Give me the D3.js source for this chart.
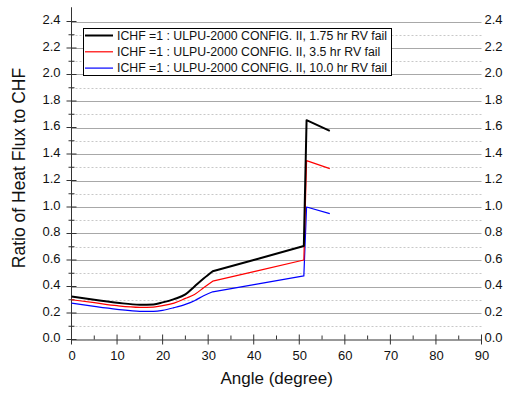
<!DOCTYPE html>
<html><head><meta charset="utf-8">
<script src="https://cdn.jsdelivr.net/npm/d3@7"></script>
<style>body{margin:0;background:#fff}svg{display:block}text{font-family:Arial,"Liberation Sans",sans-serif}</style>
</head><body><svg id="c" width="510" height="395"></svg>
<script>
const angles1 = [0, 5, 10, 15, 18, 20, 22.5, 25, 27, 29, 31, 41, 51, 51.6, 56.7];
const black175 = [0.325, 0.30, 0.278, 0.262, 0.265, 0.28, 0.305, 0.34, 0.40, 0.46, 0.515, 0.61, 0.705, 1.655, 1.575];
const red35 = [0.30, 0.278, 0.255, 0.243, 0.245, 0.255, 0.275, 0.31, 0.34, 0.39, 0.44, 0.52, 0.60, 1.35, 1.29];
const blue10 = [0.275, 0.25, 0.228, 0.213, 0.213, 0.22, 0.24, 0.265, 0.293, 0.33, 0.36, 0.42, 0.48, 1.00, 0.95];
const seriesNames = ["ICHF =1 : ULPU-2000 CONFIG. II, 1.75 hr RV fail", "ICHF =1 : ULPU-2000 CONFIG. II, 3.5 hr RV fail", "ICHF =1 : ULPU-2000 CONFIG. II, 10.0 hr RV fail"];
const seriesColors = ["#000000", "#ff0000", "#0000ff"];
const seriesWidths = [2, 1.2, 1.2];
const xTicks = [0,10,20,30,40,50,60,70,80,90];
const yTicks = [0,0.2,0.4,0.6,0.8,1.0,1.2,1.4,1.6,1.8,2.0,2.2,2.4];

const svg = d3.select("#c");
const x = d3.scaleLinear().domain([0,90]).range([71.5,481.5]);
const y = d3.scaleLinear().domain([0,2.5]).range([339.5,8.25]);

// grid
const minorY = d3.range(1,25,2).map(i=>i/10);
svg.append("g").selectAll("line").data(minorY).join("line")
  .attr("x1",x(0)).attr("x2",x(90)).attr("y1",d=>Math.round(y(d))+0.5).attr("y2",d=>Math.round(y(d))+0.5)
  .attr("stroke","#c8c8c8").attr("stroke-dasharray","2,2").attr("stroke-width",1);
svg.append("g").selectAll("line").data(yTicks.slice(1)).join("line")
  .attr("x1",x(0)).attr("x2",x(90)).attr("y1",d=>Math.round(y(d))+0.5).attr("y2",d=>Math.round(y(d))+0.5)
  .attr("stroke","#a8a8a8").attr("stroke-width",1);

// axes
const axCol = "#333";
const tickFs = 13;
const gx = svg.append("g").attr("transform",`translate(0,${y(0)})`).call(d3.axisBottom(x).tickValues(xTicks).tickFormat(d3.format("d")).tickSize(0).tickPadding(11));
gx.select(".domain").attr("stroke",axCol);
gx.selectAll("text").attr("font-size",tickFs).attr("fill","#111");
svg.append("g").selectAll("line").data(xTicks).join("line")
  .attr("x1",d=>x(d)).attr("x2",d=>x(d)).attr("y1",y(0)-5).attr("y2",y(0)+5).attr("stroke",axCol);
svg.append("g").selectAll("line").data(d3.range(5,90,10)).join("line")
  .attr("x1",d=>x(d)).attr("x2",d=>x(d)).attr("y1",y(0)-4).attr("y2",y(0)).attr("stroke",axCol);

const gy = svg.append("g").attr("transform",`translate(${x(0)},0)`).call(d3.axisLeft(y).tickValues(yTicks).tickFormat(d3.format(".1f")).tickSize(0).tickPadding(11));
gy.select(".domain").remove();
gy.selectAll("text").attr("font-size",tickFs).attr("fill","#111").attr("dy","0.17em");
svg.append("line").attr("x1",x(0)).attr("x2",x(0)).attr("y1",y(2.5)-1).attr("y2",y(0)).attr("stroke",axCol);
svg.append("g").selectAll("line").data(yTicks).join("line")
  .attr("x1",x(0)-5).attr("x2",x(0)+5).attr("y1",d=>y(d)).attr("y2",d=>y(d)).attr("stroke",axCol);
svg.append("g").selectAll("line").data(minorY).join("line")
  .attr("x1",x(0)-3).attr("x2",x(0)+3).attr("y1",d=>y(d)).attr("y2",d=>y(d)).attr("stroke",axCol);

const gr = svg.append("g").attr("transform",`translate(${x(90)},0)`).call(d3.axisRight(y).tickValues(yTicks).tickFormat(d3.format(".1f")).tickSize(0).tickPadding(3));
gr.select(".domain").remove();
gr.selectAll("text").attr("font-size",tickFs).attr("fill","#111").attr("dy","0.17em");

// titles
svg.append("text").attr("x",276.7).attr("y",383.5).attr("text-anchor","middle").attr("font-size",17).attr("fill","#111").text("Angle (degree)");
svg.append("text").attr("transform","translate(25,168) rotate(-90)").attr("text-anchor","middle").attr("font-size",17.5).attr("fill","#111").text("Ratio of Heat Flux to CHF");

// lines: smooth part up to 31 deg, straight segments after
const allSeries = [black175, red35, blue10];
const kink = angles1.indexOf(31);
const pts = s => s.map((v,i)=>[angles1[i], v]);
const smooth = d3.line().x(d=>x(d[0])).y(d=>y(d[1])).curve(d3.curveMonotoneX);
const straight = d3.line().x(d=>x(d[0])).y(d=>y(d[1]));
[2,1,0].forEach(k=>{
  const p = pts(allSeries[k]);
  const dd = smooth(p.slice(0,kink+1)) + straight(p.slice(kink)).replace(/^M/,"L");
  svg.append("path").attr("d",dd).attr("fill","none")
    .attr("stroke",seriesColors[k]).attr("stroke-width",seriesWidths[k]).attr("stroke-linejoin","round");
});

// legend
const lg = svg.append("g");
lg.append("rect").attr("x",83.5).attr("y",28.5).attr("width",308).attr("height",47).attr("fill","#fff").attr("stroke","#000");
seriesNames.forEach((n,i)=>{
  const yy = 35.5 + i*16.3;
  lg.append("line").attr("x1",85).attr("x2",113).attr("y1",yy).attr("y2",yy).attr("stroke",seriesColors[i]).attr("stroke-width",seriesWidths[i]);
  lg.append("text").attr("x",117).attr("y",yy+4.3).attr("font-size",12.3).attr("fill","#111").text(n);
});
</script></body></html>
